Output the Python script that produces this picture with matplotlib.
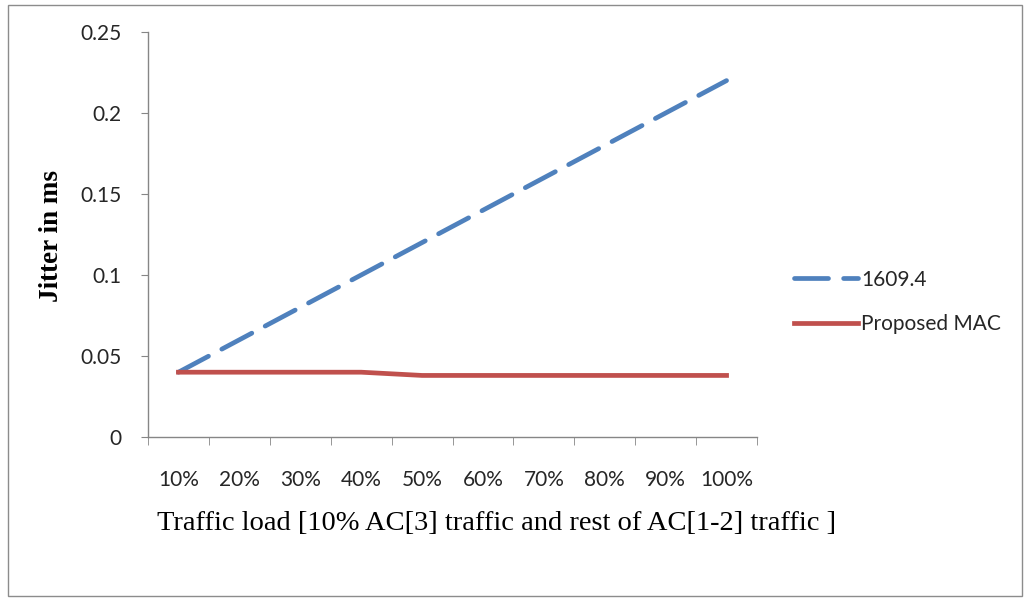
import matplotlib
matplotlib.use("Agg")
import matplotlib.pyplot as plt
from matplotlib.patches import Rectangle
from matplotlib.ticker import FixedLocator

categories = ["10%", "20%", "30%", "40%", "50%", "60%", "70%", "80%", "90%", "100%"]
series_1609 = [0.04, 0.06, 0.08, 0.10, 0.12, 0.14, 0.16, 0.18, 0.20, 0.22]
series_mac = [0.04, 0.04, 0.04, 0.04, 0.038, 0.038, 0.038, 0.038, 0.038, 0.038]
y_ticks = [0, 0.05, 0.1, 0.15, 0.2, 0.25]
y_tick_labels = ["0", "0.05", "0.1", "0.15", "0.2", "0.25"]

W, H = 1027, 601
fig = plt.figure(figsize=(W / 100, H / 100), dpi=100)
fig.patch.set_facecolor("white")

# outer chart-area border
fig.patches.append(Rectangle((8 / W, 1 - 596 / H), (1022 - 8) / W, (596 - 5) / H,
                             transform=fig.transFigure, fill=False,
                             edgecolor="#8c8c8c", linewidth=1.0))

left, right, top, bottom = 148, 757, 32, 437
ax = fig.add_axes([left / W, 1 - bottom / H, (right - left) / W, (bottom - top) / H])

x = list(range(len(categories)))
blue = "#4F81BD"
red = "#C0504D"
l1, = ax.plot(x, series_1609, color=blue, linewidth=3.4, dashes=(7.2, 3.2),
              dash_capstyle="round", label="1609.4")
l2, = ax.plot(x, series_mac, color=red, linewidth=3.4, label="Proposed MAC")

ax.set_xlim(-0.5, len(categories) - 0.5)
ax.set_ylim(0, 0.25)
ax.set_yticks(y_ticks)
ax.set_yticklabels(y_tick_labels)
ax.set_xticks(x)
ax.set_xticklabels(categories)
ax.xaxis.set_minor_locator(FixedLocator([i - 0.5 for i in range(len(categories) + 1)]))

for side in ("top", "right"):
    ax.spines[side].set_visible(False)
for side in ("left", "bottom"):
    ax.spines[side].set_color("#868686")
    ax.spines[side].set_linewidth(1.0)

tick_family = ["Lato", "DejaVu Sans"]
tick_size = 15
ax.tick_params(axis="x", which="major", length=0, pad=24, labelcolor="#262626")
ax.tick_params(axis="x", which="minor", length=6, color="#868686", direction="out")
ax.tick_params(axis="y", which="major", length=5, color="#868686", pad=14,
               labelcolor="#262626")
for lab in ax.get_xticklabels() + ax.get_yticklabels():
    lab.set_fontfamily(tick_family)
    lab.set_fontsize(tick_size)

fig.text(52 / W, 1 - 236 / H, "Jitter in ms", rotation=90, ha="center", va="center",
         fontsize=19.5, fontweight="bold", family="Liberation Serif")
fig.text(497 / W, 1 - 524 / H,
         "Traffic load [10% AC[3] traffic and rest of AC[1-2] traffic ]",
         ha="center", va="center", fontsize=20.5, family="Liberation Serif")

leg = fig.legend(handles=[l1, l2], loc="center left",
                 bbox_to_anchor=(775 / W, 1 - 302 / H), frameon=False,
                 handlelength=3.1, handletextpad=0.15, labelspacing=1.2,
                 prop={"family": tick_family, "size": tick_size})
for t in leg.get_texts():
    t.set_color("#262626")

fig.savefig("out.png", dpi=100)
